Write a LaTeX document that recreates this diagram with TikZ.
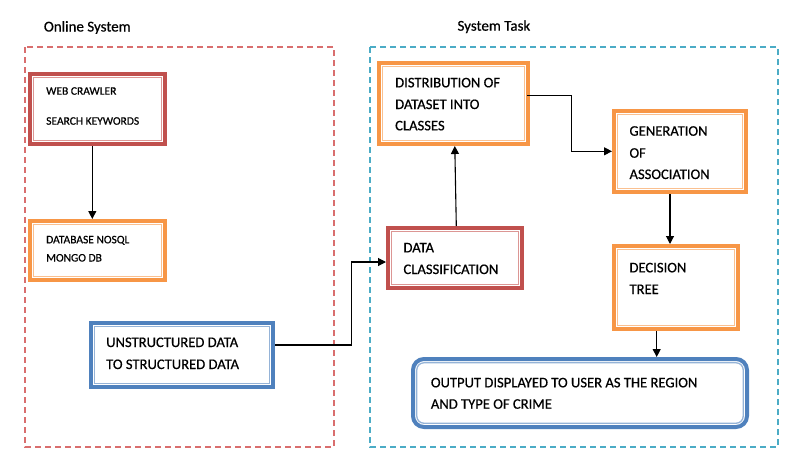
\documentclass[tikz,border=0pt]{standalone}
\usepackage{fontspec}
\setmainfont{Carlito}[FakeBold=0.6]
\usetikzlibrary{fit,arrows.meta,calc}
\definecolor{cred}{RGB}{192,80,77}
\definecolor{credl}{RGB}{220,150,148}
\definecolor{corange}{RGB}{247,150,70}
\definecolor{corangel}{RGB}{250,192,144}
\definecolor{cblue}{RGB}{79,129,189}
\definecolor{cbluel}{RGB}{149,179,215}
\definecolor{fred}{RGB}{217,110,110}
\definecolor{fblue}{RGB}{75,172,198}
\tikzset{
  frame/.style={line width=1.3pt, dash pattern=on 6pt off 4pt},
  boxo/.style={draw=#1, line width=4pt, inner sep=-2pt, fill=white},
  boxi/.style={draw=#1, line width=1.3pt},
  small/.style={font=\fontsize{11.5}{13}\selectfont, anchor=base west, inner sep=0pt},
  big/.style={font=\fontsize{14.6}{17}\selectfont, anchor=base west, inner sep=0pt},
  ttl/.style={font=\fontsize{15}{18}\selectfont, anchor=base west, inner sep=0pt},
  arr/.style={line width=1.1pt, -{Triangle[length=8pt,width=8pt]}},
  ln/.style={line width=1.1pt}
}
\newcommand\innerline[2]{\draw[boxi=#2] ([shift={(5.8pt,-5.8pt)}]#1.north west) rectangle ([shift={(-5.8pt,5.8pt)}]#1.south east);}
\begin{document}
\begin{tikzpicture}[x=1pt,y=-1pt]
\useasboundingbox[fill=white] (0,0) rectangle (790,461);
% frames
\draw[frame, draw=fred] (25,47) rectangle (334,447);
\draw[frame, draw=fblue] (370,47) rectangle (778,447);
\node[ttl] (t1) at (43.7,31.5) {Online System};
\node[ttl] (t2) at (457.3,30.7) {System Task};
% boxes
\coordinate (a1) at (28,72); \coordinate (a2) at (167,146);
\node[boxo=cred, fit=(a1)(a2)] (wc) {};
\innerline{wc}{credl}
\node[small] (wc1) at (46,94.7) {WEB CRAWLER};
\node[small] (wc2) at (46,124.7) {SEARCH KEYWORDS};

\coordinate (b1) at (28,219); \coordinate (b2) at (167,282);
\node[boxo=corange, fit=(b1)(b2)] (db) {};
\innerline{db}{corangel}
\node[small] (db1) at (46,243.3) {DATABASE NOSQL};
\node[small] (db2) at (46,261.5) {MONGO DB};

\coordinate (c1) at (89,321); \coordinate (c2) at (275,389);
\node[boxo=cblue, fit=(c1)(c2)] (us) {};
\innerline{us}{cbluel}
\node[big] (us1) at (106,347) {UNSTRUCTURED DATA};
\node[big] (us2) at (106,369) {TO STRUCTURED DATA};

\coordinate (d1) at (386,226); \coordinate (d2) at (524,290);
\node[boxo=cred, fit=(d1)(d2)] (dc) {};
\innerline{dc}{credl}
\node[big] (dc1) at (403.3,252.3) {DATA};
\node[big] (dc2) at (403.3,274) {CLASSIFICATION};

\coordinate (e1) at (377,61); \coordinate (e2) at (530,146);
\node[boxo=corange, fit=(e1)(e2)] (di) {};
\innerline{di}{corangel}
\node[big] (di1) at (395,87.3) {DISTRIBUTION OF};
\node[big] (di2) at (395,109) {DATASET INTO};
\node[big] (di3) at (395,130.3) {CLASSES};

\coordinate (f1) at (612,109); \coordinate (f2) at (748,194);
\node[boxo=corange, fit=(f1)(f2)] (ge) {};
\innerline{ge}{corangel}
\node[big] (ge1) at (629.3,135.7) {GENERATION};
\node[big] (ge2) at (629.3,157.7) {OF};
\node[big] (ge3) at (629.3,179) {ASSOCIATION};

\coordinate (g1) at (612,244); \coordinate (g2) at (740,331);
\node[boxo=corange, fit=(g1)(g2)] (dt) {};
\innerline{dt}{corangel}
\node[big] (dt1) at (629.3,272.3) {DECISION};
\node[big] (dt2) at (629.3,294) {TREE};

\coordinate (h1) at (411,357); \coordinate (h2) at (749,429);
\node[boxo=cblue, fit=(h1)(h2), rounded corners=11pt] (ou) {};
\draw[boxi=cbluel, rounded corners=7pt] ([shift={(5.8pt,-5.8pt)}]ou.north west) rectangle ([shift={(-5.8pt,5.8pt)}]ou.south east);
\node[big] (ou1) at (430.7,387.3) {OUTPUT DISPLAYED TO USER AS THE REGION};
\node[big] (ou2) at (430.7,408.7) {AND TYPE OF CRIME};

% connectors
\draw[arr] ([xshift=-5.2pt]wc.south) -- ([xshift=-5.2pt]db.north);
\draw[arr] (us.east |- 0,345) -- (351.5,345) |- (dc.west |- 0,262);
\draw[arr] ([xshift=1.3pt]dc.north) -- ([xshift=1.3pt]di.south);
\draw[arr] ([xshift=-3pt]di.east |- 0,95.7) -- (571.7,95.7) |- (ge.west |- 0,151.3);
\draw[arr] ([xshift=-10pt]ge.south) -- ([xshift=-10pt]ge.south |- dt.north);
\draw[arr] ([xshift=-19.3pt]dt.south) -- ([xshift=-19.3pt]dt.south |- ou.north);
\end{tikzpicture}
\end{document}
